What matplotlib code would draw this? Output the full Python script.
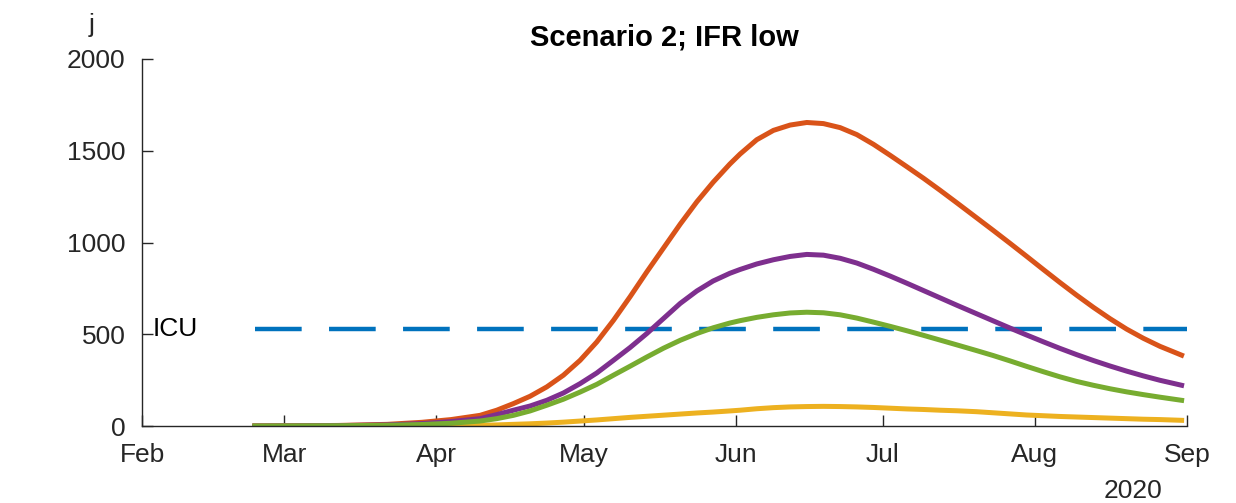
import matplotlib
matplotlib.use("Agg")
import matplotlib.pyplot as plt
from datetime import datetime, timedelta

# ---- data ----
start_date = "2020-02-01"
days_since_feb1 = [23, 30, 40, 50, 57, 63,
                   68.9, 72.3, 75.7, 79.1, 82.5, 85.9, 89.3, 92.7, 96.1, 99.5,
                   102.9, 106.3, 109.7, 113.1, 116.4, 119.8, 121.9, 125.3, 128.7,
                   132.1, 135.5, 138.9, 142.3, 145.7, 149.1, 152.5, 155.9, 159.3,
                   162.7, 166.1, 170.1, 173.5, 176.9, 180.3, 183.7, 187.1, 190.5,
                   193.9, 197.3, 200.7, 204.1, 207.5, 211.9]
orange_vals = [0, 1, 3, 9, 20, 35,
               58, 86, 122, 162, 213, 277, 358, 458, 576, 705,
               840, 970, 1100, 1222, 1328, 1427, 1482, 1560, 1611,
               1640, 1654, 1648, 1626, 1588, 1535, 1475, 1413, 1350,
               1284, 1216, 1135, 1066, 996, 925, 853, 782, 713,
               647, 585, 528, 478, 434, 386]
purple_vals = [0, 0.5, 2, 6, 13, 24,
               40, 62, 86, 109, 140, 180, 231, 289, 358, 428,
               504, 586, 668, 736, 790, 832, 853, 883, 906,
               924, 935, 931, 914, 888, 854, 817, 778, 738,
               698, 658, 612, 573, 534, 496, 459, 423, 389,
               357, 327, 299, 273, 249, 222]
green_vals = [0, 0.5, 1.5, 4, 8, 15,
              27, 40, 58, 82, 113, 146, 185, 227, 277, 326,
              376, 424, 467, 504, 535, 561, 574, 592, 606,
              616, 620, 617, 606, 588, 566, 543, 519, 494,
              468, 442, 411, 384, 355, 325, 296, 268, 243,
              222, 203, 186, 171, 157, 140]
yellow_vals = [0, 0, 0.3, 1, 1.5, 2.5,
               4, 6, 9, 12, 16, 21, 27, 33, 40, 47,
               53, 59, 65, 71, 76, 82, 86, 94, 100,
               104, 106, 107, 106, 104, 101, 97, 93, 90,
               86, 83, 78, 72, 66, 60, 56, 52, 49,
               46, 43, 40, 37, 35, 31]
icu_level = 530
icu_days = [23, 213]
xtick_dates = ["2020-02-01", "2020-03-01", "2020-04-01", "2020-05-01", "2020-06-01",
               "2020-07-01", "2020-08-01", "2020-09-01"]
xtick_labels = ["Feb", "Mar", "Apr", "May", "Jun", "Jul", "Aug", "Sep"]
yticks = [0, 500, 1000, 1500, 2000]
title = "Scenario 2; IFR low"

base = datetime.strptime(start_date, "%Y-%m-%d")
to_dt = lambda lst: [datetime.strptime(s, "%Y-%m-%d") for s in lst]
from_days = lambda lst: [base + timedelta(days=d) for d in lst]
x = from_days(days_since_feb1)

plt.rcParams['font.family'] = ['Liberation Sans', 'DejaVu Sans']
axis_col = '#262626'

fig = plt.figure(figsize=(12.36, 5.03), dpi=100)
ax = fig.add_axes([142/1236, 1 - 426/503, (1187-142)/1236, (426-59)/503])

lw_icu = 3.2
l, = ax.plot(from_days(icu_days), [icu_level, icu_level], color='#0072BD', lw=lw_icu,
             solid_capstyle='butt', dash_capstyle='butt')
l.set_dashes((33.6/lw_icu, 19.7/lw_icu))

lw = 3.6
ax.plot(x, orange_vals, color='#D95319', lw=lw, solid_joinstyle='round')
ax.plot(x, yellow_vals, color='#EDB120', lw=lw, solid_joinstyle='round')
ax.plot(x, purple_vals, color='#7E2F8E', lw=lw, solid_joinstyle='round')
ax.plot(x, green_vals, color='#77AC30', lw=lw, solid_joinstyle='round')

ax.text(base + timedelta(days=2.2), icu_level, "ICU", fontsize=19, va='center',
        ha='left', color='black')

ax.set_xlim(to_dt(["2020-02-01", "2020-09-01"]))
ax.set_ylim(0, 2000)
ax.set_xticks(to_dt(xtick_dates))
ax.set_xticklabels(xtick_labels)
ax.set_yticks(yticks)
ax.tick_params(direction='in', length=7.7, width=1, colors=axis_col,
               labelsize=19, labelcolor=axis_col)
ax.tick_params(axis='x', pad=12)
ax.tick_params(axis='y', pad=12)
for s in ['top', 'right']:
    ax.spines[s].set_visible(False)
for s in ['left', 'bottom']:
    ax.spines[s].set_color(axis_col)
    ax.spines[s].set_linewidth(1)

ax.set_title(title, fontsize=21, fontweight='bold', pad=10)
fig.text(92/1236, 1 - 25/503, "j", fontsize=19, ha='center', va='center', color=axis_col)
fig.text(1133/1236, 0.0, "2020", fontsize=19, ha='center', va='bottom',
         color=axis_col)

fig.savefig("out.png", dpi=100)
